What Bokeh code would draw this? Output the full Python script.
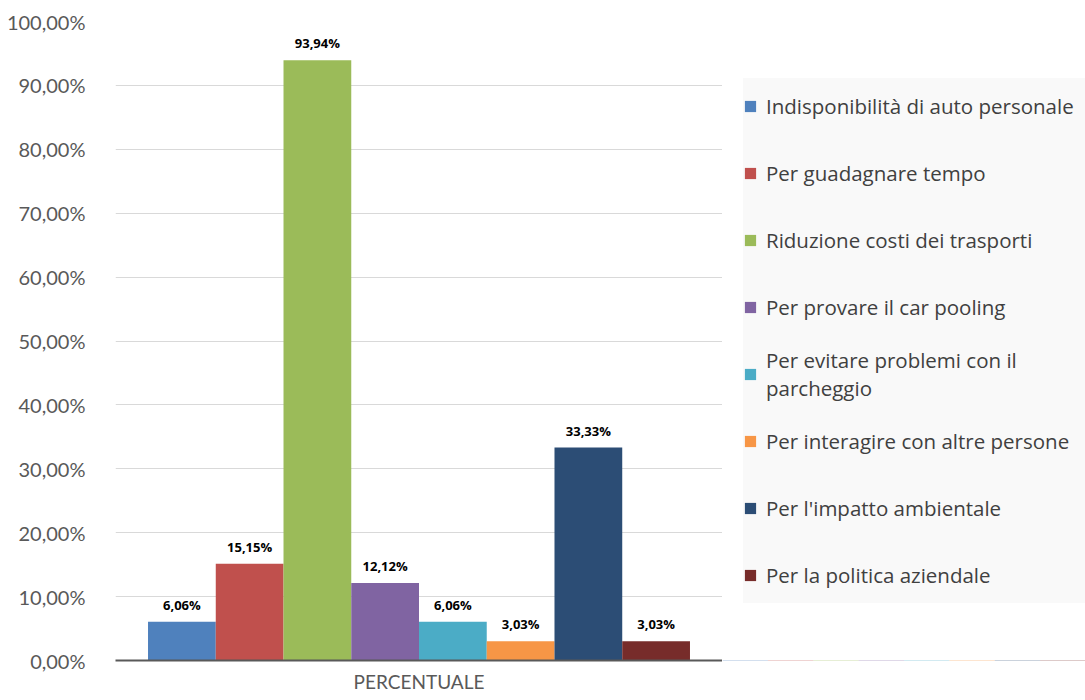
from bokeh.plotting import figure
from bokeh.models import (ColumnDataSource, FactorRange, Range1d, FixedTicker,
                          LabelSet, Legend, LegendItem)
from bokeh.layouts import row
from bokeh.core.properties import value
from bokeh.embed import file_html
from bokeh.resources import INLINE

categories = ["Indisponibilità di auto personale", "Per guadagnare tempo",
              "Riduzione costi dei trasporti", "Per provare il car pooling",
              "Per evitare problemi con il parcheggio", "Per interagire con altre persone",
              "Per l'impatto ambientale", "Per la politica aziendale"]
legend_labels = ["Indisponibilità di auto personale", "Per guadagnare tempo",
                 "Riduzione costi dei trasporti", "Per provare il car pooling",
                 "Per evitare problemi con il\nparcheggio", "Per interagire con altre persone",
                 "Per l'impatto ambientale", "Per la politica aziendale"]
values = [6.06, 15.15, 93.94, 12.12, 6.06, 3.03, 33.33, 3.03]
colors = ["#4F81BD", "#C0504D", "#9BBB59", "#8064A2", "#4BACC6", "#F79646", "#2C4D75", "#772C2A"]
y_ticks = [0, 10, 20, 30, 40, 50, 60, 70, 80, 90, 100]
x_axis_label = "PERCENTUALE"

def fmt(v):
    return f"{v:.2f}".replace(".", ",") + "%"

source = ColumnDataSource(dict(cat=categories, val=values, color=colors,
                               lab=[fmt(v) for v in values]))

# ---- main chart ----
p = figure(width=722, height=700, output_backend="svg", toolbar_location=None,
           x_range=FactorRange(factors=categories, range_padding=0.12),
           y_range=Range1d(0, 100),
           min_border_left=115, min_border_right=0, min_border_top=21,
           min_border_bottom=40)
p.outline_line_color = None
p.background_fill_color = "white"

r = p.vbar(x="cat", top="val", width=1.0, color="color", line_color=None, source=source)

labels = LabelSet(x="cat", y="val", text="lab", source=source, text_align="center",
                  text_baseline="bottom", y_offset=8, text_font=value("Open Sans"),
                  text_font_style="bold", text_font_size="13px", text_color="#000000")
p.add_layout(labels)

p.yaxis.ticker = FixedTicker(ticks=y_ticks)
p.yaxis.major_label_overrides = {t: fmt(t) for t in y_ticks}
p.yaxis.axis_line_color = None
p.yaxis.major_tick_line_color = None
p.yaxis.minor_tick_line_color = None
p.yaxis.major_label_text_font = "Lato"
p.yaxis.major_label_text_font_size = "20px"
p.yaxis.major_label_text_color = "#595959"
p.yaxis.major_label_standoff = 24
p.ygrid.grid_line_color = "#D9D9D9"
p.ygrid.grid_line_width = 1
p.xgrid.grid_line_color = None

p.xaxis.axis_label = x_axis_label
p.xaxis.axis_label_text_font = "Lato"
p.xaxis.axis_label_text_font_style = "normal"
p.xaxis.axis_label_text_font_size = "19px"
p.xaxis.axis_label_text_color = "#595959"
p.xaxis.axis_label_standoff = 3
p.xaxis.major_label_text_font_size = "1px"
p.xaxis.major_label_text_color = None
p.xaxis.major_tick_line_color = None
p.xaxis.minor_tick_line_color = None
p.xaxis.axis_line_color = "#595959"
p.xaxis.axis_line_width = 2

# ---- legend panel (zero-height proxy bars carry the legend colours) ----
q = figure(width=363, height=700, output_backend="svg", toolbar_location=None,
           x_range=FactorRange(factors=categories), y_range=Range1d(1000, 1001),
           min_border=0)
q.outline_line_color = None
q.axis.visible = False
q.grid.visible = False
rq = q.vbar(x="cat", bottom="val", top="val", width=1.0, color="color",
            line_color=None, source=source)

items = [LegendItem(label=legend_labels[i], renderers=[rq], index=i) for i in range(len(categories))]
legend = Legend(items=items, location=(21, 57), orientation="vertical",
                background_fill_color="#F9F9F9", background_fill_alpha=1.0,
                border_line_color=None, label_text_font="Open Sans", label_text_font_size="20.5px",
                label_text_color="#404040", glyph_width=14, glyph_height=14,
                label_height=56, label_width=330, label_standoff=9, spacing=11,
                padding=4, margin=0)
q.add_layout(legend, "center")

layout = row(p, q, spacing=0)
open("out.html", "w").write(file_html(layout, INLINE))
